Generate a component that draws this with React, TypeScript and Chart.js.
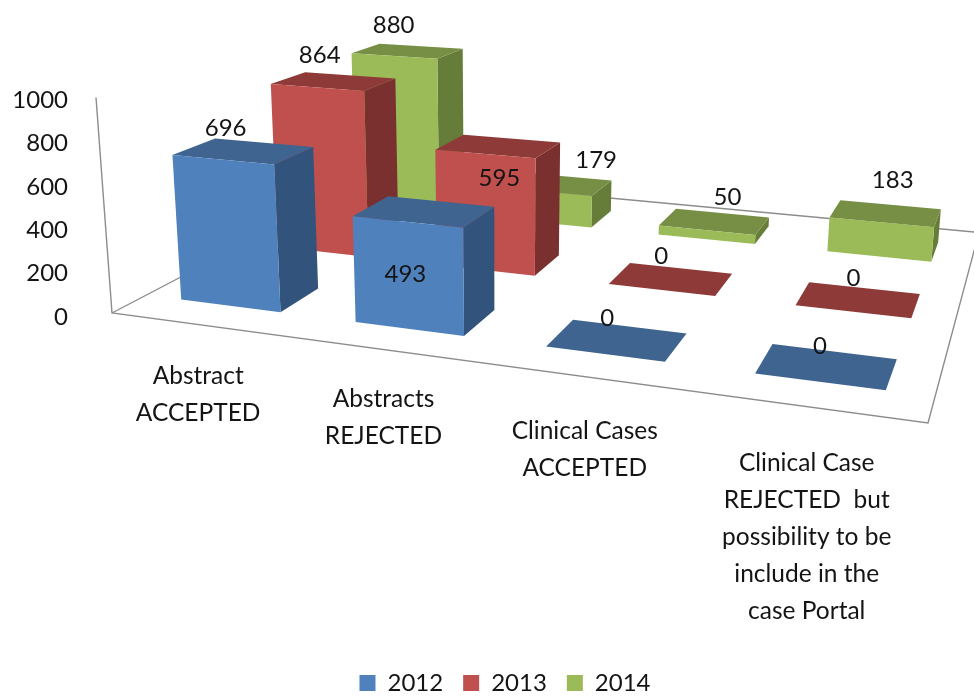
import React, { useEffect, useRef } from "react";
import { Chart, registerables } from "chart.js";

Chart.register(...registerables);

const categories: string[][] = [
  ["Abstract", "ACCEPTED"],
  ["Abstracts", "REJECTED"],
  ["Clinical Cases", "ACCEPTED"],
  ["Clinical Case", "REJECTED  but", "possibility to be", "include in the", "case Portal"],
];
const seriesNames = ["2012", "2013", "2014"];
const values2012 = [696, 493, 0, 0];
const values2013 = [864, 595, 0, 0];
const values2014 = [880, 179, 50, 183];
const yTicks = { min: 0, max: 1000, step: 200 };

const FONT = "Lato";
const TEXT = "#141414";
const faces = [
  { front: "#4F81BD", top: "#3E648F", side: "#32547C" },
  { front: "#C0504D", top: "#8E3A38", side: "#7A302E" },
  { front: "#9BBB59", top: "#768F44", side: "#667D39" },
];

// Corners of the floor on screen; the right-hand back corner runs just off the canvas
const floor = { a: [112, 313], b: [928, 423], c: [979, 232.4], d: [374, 176] };
const vertical = { vx: 500, vy: 5540, s: -0.0396 };
const BAR_FRACTION = 0.58;
const DEPTH_FRACTION = 0.4;
const labelShift: Record<string, [number, number]> = {
  "0-0": [-18, -23],
  "1-0": [-14, -26],
  "2-0": [-14, -26],
  "0-1": [-19, 63],
  "1-1": [1, 32],
  "2-1": [39, -24],
  "2-2": [13, -24],
  "2-3": [7, -33],
  "0-2": [-10, -22],
  "1-2": [-10, -23],
  "0-3": [-7, -20],
  "1-3": [-5, -21],
};
const categoryShift: [number, number][] = [[0, 0], [1, -1], [0, 3], [-1, 5]];

function makeProjector() {
  const { a, b, c, d } = floor;
  const dx1 = b[0] - c[0], dx2 = d[0] - c[0], sx = a[0] - b[0] + c[0] - d[0];
  const dy1 = b[1] - c[1], dy2 = d[1] - c[1], sy = a[1] - b[1] + c[1] - d[1];
  const den = dx1 * dy2 - dx2 * dy1;
  const g = (sx * dy2 - dx2 * sy) / den;
  const h = (dx1 * sy - sx * dy1) / den;
  const m = [b[0] - a[0] + g * b[0], d[0] - a[0] + h * d[0], a[0], b[1] - a[1] + g * b[1], d[1] - a[1] + h * d[1], a[1]];
  return (u: number, v: number, w: number): [number, number] => {
    const W = g * u + h * v + 1 + w * vertical.s;
    return [
      (m[0] * u + m[1] * v + m[2] + w * vertical.s * vertical.vx) / W,
      (m[3] * u + m[4] * v + m[5] + w * vertical.s * vertical.vy) / W,
    ];
  };
}

const quad = (ctx: CanvasRenderingContext2D, pts: [number, number][], fill: string) => {
  ctx.beginPath();
  pts.forEach((p, i) => (i ? ctx.lineTo(p[0], p[1]) : ctx.moveTo(p[0], p[1])));
  ctx.closePath();
  ctx.fillStyle = fill;
  ctx.fill();
};

const perspectivePlugin = {
  id: "perspective",
  beforeDatasetsDraw(chart: any) {
    const { ctx, scales } = chart;
    const P = makeProjector();
    const xs = scales.x, ys = scales.y, zs = scales.depth;
    const uOf = (i: number) => xs.getDecimalForPixel(xs.getPixelForValue(i));
    const vOf = (i: number) => zs.getDecimalForPixel(zs.getPixelForValue(i));
    const wOf = (val: number) => ys.getDecimalForPixel(ys.getPixelForValue(val));
    const hu = (0.5 * BAR_FRACTION) / categories.length;
    const hv = (0.5 * DEPTH_FRACTION) / seriesNames.length;

    ctx.save();
    // floor outline and the wall's edge
    ctx.strokeStyle = "#8c8c8c";
    ctx.lineWidth = 1.4;
    ctx.beginPath();
    const wallTop = P(0, 0, 1), a = P(0, 0, 0), b = P(1, 0, 0), c = P(1, 1, 0), d = P(0, 1, 0);
    ctx.moveTo(wallTop[0], wallTop[1]);
    ctx.lineTo(a[0], a[1]);
    ctx.lineTo(b[0], b[1]);
    ctx.lineTo(c[0], c[1]);
    ctx.lineTo(d[0], d[1]);
    ctx.lineTo(a[0], a[1]);
    ctx.stroke();

    // bars, back row first
    const datasets = chart.data.datasets;
    for (let s = datasets.length - 1; s >= 0; s--) {
      const v0 = vOf(s) - hv, v1 = vOf(s) + hv;
      datasets[s].data.forEach((val: number, i: number) => {
        const u0 = uOf(i) - hu, u1 = uOf(i) + hu;
        const w = wOf(val);
        const col = faces[s];
        if (val > 0) {
          quad(ctx, [P(u1, v0, 0), P(u1, v1, 0), P(u1, v1, w), P(u1, v0, w)], col.side);
        }
        quad(ctx, [P(u0, v0, w), P(u1, v0, w), P(u1, v1, w), P(u0, v1, w)], col.top);
        if (val > 0) {
          quad(ctx, [P(u0, v0, 0), P(u1, v0, 0), P(u1, v0, w), P(u0, v0, w)], col.front);
        }
      });
    }

    // value labels
    ctx.font = `24px ${FONT}`;
    ctx.fillStyle = TEXT;
    ctx.textAlign = "center";
    ctx.textBaseline = "middle";
    datasets.forEach((ds: any, s: number) => {
      ds.data.forEach((val: number, i: number) => {
        const p = P(uOf(i), vOf(s), wOf(val));
        const sh = labelShift[`${s}-${i}`] || [-8, -25];
        ctx.fillText(String(val), p[0] + sh[0], p[1] + sh[1]);
      });
    });

    // category labels under the front edge of the floor
    ctx.font = `24.5px ${FONT}`;
    xs.getLabels().forEach((lines: string[], i: number) => {
      const p = P(uOf(i), 0, 0);
      const sh = categoryShift[i];
      lines.forEach((line, k) => ctx.fillText(line, p[0] + sh[0], p[1] + 51 + sh[1] + k * 37));
    });
    ctx.restore();
    return false;
  },
};

export default function App() {
  const ref = useRef<HTMLCanvasElement>(null);
  useEffect(() => {
    const chart = new Chart(ref.current as HTMLCanvasElement, {
      type: "bar",
      data: {
        labels: categories as any,
        datasets: [values2012, values2013, values2014].map((data, s) => ({
          label: seriesNames[s],
          data,
          backgroundColor: faces[s].front,
          borderWidth: 0,
        })),
      },
      options: {
        animation: false,
        responsive: false,
        layout: { padding: { top: 100, left: 0, right: -36, bottom: -5 } },
        plugins: {
          tooltip: { enabled: false },
          legend: {
            position: "bottom",
            labels: {
              font: { family: FONT, size: 24 },
              color: TEXT,
              boxWidth: 16,
              boxHeight: 16,
              padding: 20,
            },
          },
        },
        scales: {
          x: {
            type: "category",
            grid: { display: false },
            border: { display: false },
            ticks: { display: false },
            afterFit: (s: any) => { s.height = 334; },
          },
          depth: {
            type: "category",
            axis: "x",
            position: "bottom",
            labels: seriesNames,
            offset: true,
            display: false,
          },
          y: {
            min: yTicks.min,
            max: yTicks.max,
            grid: { display: false },
            border: { display: false },
            afterFit: (s: any) => { s.width = 80; },
            ticks: {
              stepSize: yTicks.step,
              padding: 4,
              font: { family: FONT, size: 24 },
              color: TEXT,
              callback: (v: any) => String(v),
            },
          },
        },
      } as any,
      plugins: [perspectivePlugin],
    });
    return () => chart.destroy();
  }, []);
  return (
    <div style={{ position: "fixed", left: 0, top: 0, width: 974, height: 700, background: "#fff" }}>
      <canvas ref={ref} width={974} height={700} style={{ display: "block" }} />
    </div>
  );
}
